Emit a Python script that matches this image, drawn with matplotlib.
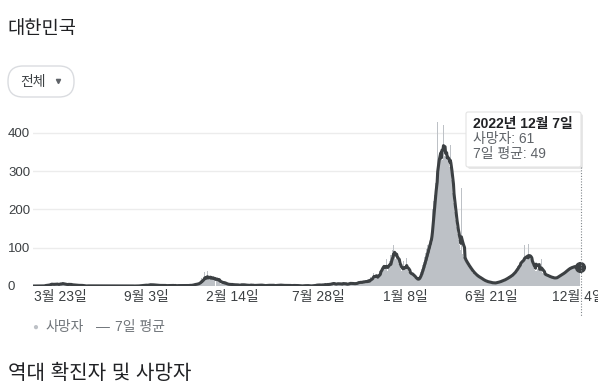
import matplotlib.pyplot as plt
from matplotlib.patches import FancyBboxPatch
from matplotlib.transforms import Bbox, TransformedBbox
import numpy as np
import pandas as pd

plt.rcParams['font.family'] = ['Liberation Sans', 'Noto Sans CJK KR', 'DejaVu Sans']

# daily deaths, South Korea, from 2020-02-01
deaths_2020 = [
    0, 0, 0, 0, 0, 0, 0, 0, 0, 0, 0, 0, 0, 0, 0, 0, 0, 0, 0, 1, 1, 0, 3, 1, 3, 1, 2, 1, 1,
    3, 4, 6, 4, 7, 3, 6, 2, 4, 3, 6, 6, 5, 5, 3, 6, 3, 7, 4, 3, 2, 7, 9, 6, 5, 5, 8, 5, 6, 6, 4,
    3, 4, 5, 3, 3, 3, 4, 8, 4, 4, 3, 3, 3, 3, 3, 3, 2, 2, 2, 2, 2, 1, 2, 2, 2, 2, 1, 2, 1, 0,
    2, 2, 2, 2, 0, 1, 0, 0, 0, 0, 0, 0, 2, 0, 1, 0, 0, 0, 1, 0, 0, 1, 0, 0, 3, 0, 0, 0, 1, 0, 0,
    1, 0, 1, 0, 0, 1, 1, 0, 0, 0, 0, 0, 1, 0, 1, 1, 0, 1, 1, 0, 0, 1, 1, 0, 0, 1, 0, 0, 0, 0,
    1, 0, 1, 1, 1, 1, 0, 0, 1, 0, 0, 0, 1, 0, 0, 1, 0, 0, 0, 1, 0, 0, 1, 1, 0, 0, 0, 0, 1, 1, 1,
    0, 0, 1, 0, 0, 0, 0, 0, 0, 0, 0, 0, 0, 0, 0, 0, 0, 0, 1, 1, 1, 0, 1, 2, 0, 1, 2, 3, 2, 3, 1,
    3, 2, 1, 2, 2, 3, 3, 4, 3, 5, 3, 2, 3, 3, 4, 3, 3, 2, 2, 3, 2, 2, 1, 1, 2, 3, 1, 2, 1, 1,
    2, 1, 2, 2, 2, 0, 1, 1, 1, 3, 0, 1, 1, 0, 2, 1, 1, 1, 2, 1, 0, 3, 2, 2, 0, 0, 1, 2, 1, 1, 1,
    1, 1, 2, 1, 1, 1, 1, 1, 0, 1, 1, 3, 2, 2, 0, 1, 0, 0, 3, 1, 1, 2, 1, 1, 3, 2, 2, 1, 3, 4,
    2, 4, 5, 6, 3, 4, 5, 5, 6, 6, 8, 7, 10, 10, 12, 12, 22, 11, 14, 24, 15, 24, 37, 17, 17, 20, 15, 40, 20, 19, 19,
]
deaths_2021 = [
    25, 20, 19, 20, 26, 20, 19, 15, 24, 14, 21, 12, 15, 22, 20, 19, 11, 10, 12, 20, 7, 5, 13, 6, 11, 7, 13, 7, 6, 5, 7,
    6, 7, 5, 3, 3, 4, 3, 5, 4, 4, 6, 2, 4, 3, 2, 3, 3, 2, 5, 4, 2, 3, 2, 1, 3, 2, 1, 4,
    2, 6, 4, 3, 1, 3, 2, 3, 3, 5, 1, 1, 1, 1, 3, 2, 2, 1, 2, 4, 3, 1, 2, 2, 1, 1, 0, 3, 2, 3, 1,
    2, 2, 2, 2, 2, 3, 2, 2, 3, 3, 1, 1, 2, 0, 2, 1, 0, 2, 1, 3, 2, 2, 2, 3, 0, 1, 1, 6, 1, 1,
    3, 1, 0, 1, 1, 2, 2, 2, 1, 2, 2, 4, 1, 2, 4, 2, 1, 1, 2, 1, 1, 1, 2, 3, 1, 1, 2, 1, 2, 3, 1,
    1, 1, 2, 1, 1, 0, 2, 2, 2, 2, 1, 1, 2, 1, 1, 1, 1, 1, 1, 1, 0, 1, 0, 0, 1, 0, 0, 2, 1, 0,
    2, 1, 1, 0, 1, 1, 2, 1, 0, 0, 0, 0, 0, 1, 2, 1, 1, 0, 1, 2, 4, 1, 2, 5, 1, 1, 4, 2, 4, 3, 1,
    2, 1, 6, 2, 5, 1, 4, 5, 3, 2, 5, 3, 4, 6, 4, 3, 5, 5, 4, 7, 7, 9, 8, 4, 1, 9, 6, 3, 5, 6, 7,
    6, 8, 5, 4, 5, 4, 8, 5, 6, 4, 3, 12, 7, 6, 5, 4, 5, 3, 6, 4, 6, 7, 8, 6, 7, 10, 4, 5, 6, 8,
    6, 6, 7, 5, 5, 7, 8, 9, 7, 11, 12, 6, 9, 10, 12, 8, 9, 11, 10, 12, 14, 9, 11, 13, 12, 9, 14, 12, 15, 18, 9,
    10, 15, 24, 22, 22, 21, 19, 20, 34, 37, 19, 21, 26, 29, 21, 24, 21, 32, 29, 39, 35, 38, 63, 40, 45, 52, 56, 47, 56, 44,
    48, 52, 43, 70, 43, 39, 57, 64, 64, 53, 80, 40, 80, 94, 94, 84, 107, 79, 78, 56, 71, 109, 79, 63, 69, 58, 48, 60, 57, 44, 48,
]
deaths_2022 = [
    39, 40, 43, 45, 64, 55, 44, 41, 50, 47, 73, 39, 42, 36, 31, 33, 34, 31, 29, 34, 32, 30, 24, 25, 24, 20, 23, 19, 18, 15, 15,
    17, 22, 19, 27, 25, 36, 31, 45, 40, 56, 49, 63, 60, 75, 66, 85, 78, 96, 88, 106, 98, 118, 108, 128, 119, 138, 133, 158,
    200, 215, 222, 240, 238, 262, 268, 290, 295, 310, 428, 316, 330, 335, 342, 338, 346, 335, 455, 330, 342, 420, 328, 340, 330, 336, 344, 338, 328, 342, 322,
    325, 312, 300, 368, 282, 276, 250, 244, 224, 218, 196, 194, 176, 172, 154, 154, 136, 136, 120, 120, 106, 108, 94, 96, 255, 80, 84, 72, 76, 66,
    70, 62, 68, 56, 61, 52, 57, 48, 53, 46, 47, 42, 43, 38, 39, 35, 37, 33, 32, 29, 31, 27, 28, 25, 26, 23, 24, 21, 23, 20, 21,
    19, 18, 17, 16, 15, 15, 14, 13, 13, 12, 12, 11, 11, 10, 10, 11, 9, 10, 9, 8, 9, 8, 7, 8, 9, 7, 8, 9, 8, 10,
    9, 11, 10, 9, 12, 11, 13, 12, 14, 13, 15, 14, 16, 17, 15, 18, 17, 20, 19, 21, 22, 21, 24, 25, 23, 27, 28, 26, 30, 31, 29,
    33, 35, 38, 36, 40, 42, 44, 47, 46, 51, 53, 55, 58, 57, 60, 81, 62, 64, 66, 65, 68, 70, 107, 72, 71, 74, 73, 75, 74, 76, 110,
    74, 72, 70, 66, 62, 58, 55, 52, 48, 45, 43, 42, 40, 130, 40, 42, 44, 45, 46, 45, 44, 42, 40, 70, 36, 34, 32, 31, 30, 29,
    30, 28, 27, 29, 26, 25, 27, 24, 23, 25, 22, 24, 21, 23, 20, 22, 21, 19, 22, 20, 23, 21, 24, 22, 25, 27, 26, 28, 27, 30, 29,
    31, 33, 32, 35, 34, 37, 36, 40, 38, 42, 41, 44, 43, 46, 45, 48, 47, 49, 46, 50, 48, 52, 49, 51, 50, 53, 48, 52, 47, 50,
    46, 50, 44, 48, 42, 52, 61,
]

tick_dates = ['2020-03-23', '2020-09-03', '2021-02-14', '2021-07-28',
              '2022-01-08', '2022-06-21', '2022-12-04']
tick_labels = ['3월 23일', '9월 3일', '2월 14일', '7월 28일', '1월 8일', '6월 21일', '12월 4일']
y_ticks = [0, 100, 200, 300, 400]

deaths = np.array(deaths_2020 + deaths_2021 + deaths_2022)
dates = pd.date_range('2020-02-01', periods=len(deaths), freq='D')
avg7 = pd.Series(deaths).rolling(7, min_periods=1).mean()

fig = plt.figure(figsize=(6.15, 3.89), dpi=100)
ax = fig.add_axes([33 / 615, 103 / 389, 547.5 / 615, 180 / 389])

ax.bar(dates, deaths, width=1.0, color='#bdc1c6', linewidth=0, antialiased=False, zorder=2)
ax.plot(dates, avg7, color='#3c4043', lw=2.2, zorder=3, solid_joinstyle='round')
ax.plot(dates[-1], avg7.iloc[-1], 'o', ms=7, color='#3c4043', zorder=4, clip_on=False)

ax.set_xlim(dates[0] - pd.Timedelta(hours=12), dates[-1] + pd.Timedelta(hours=12))
ax.set_ylim(0, 470)
for s in ax.spines.values():
    s.set_visible(False)
ax.set_yticks(y_ticks)
ax.set_yticklabels([str(v) for v in y_ticks], ha='left')
ax.tick_params(axis='y', length=0, pad=18, labelsize=9.5, labelcolor='#3c4043')
ax.set_xticks(pd.to_datetime(tick_dates))
ax.set_xticklabels(tick_labels)
ax.tick_params(axis='x', length=0, pad=3, labelsize=10, labelcolor='#3c4043')
ax.yaxis.grid(True, color='#ececec', lw=1)
ax.set_axisbelow(True)

# last label is cut off at the card edge
clip = TransformedBbox(Bbox.from_extents(0, 0, 598 / 615, 1), fig.transFigure)
last = ax.get_xticklabels()[-1]
last.set_clip_on(True)
last.set_clip_box(clip)

# overlay in pixel coordinates for the page elements
ov = fig.add_axes([0, 0, 1, 1], zorder=5)
ov.set_xlim(0, 615)
ov.set_ylim(389, 0)
ov.axis('off')

ov.text(7, 29, '대한민국', fontsize=13.5, color='#202124', va='center')
ov.add_patch(FancyBboxPatch((8, 66), 66, 31, boxstyle='round,pad=0,rounding_size=15',
                            fc='white', ec='#dadce0', lw=1))
ov.text(20, 82, '전체', fontsize=10, color='#3c4043', va='center')
ov.plot(58, 81, marker='v', ms=3, color='#5f6368')

ov.plot([580.5, 580.5], [167, 316], color='#80868b', lw=0.8, ls=(0, (1, 1.5)))
ov.add_patch(FancyBboxPatch((468, 114), 115, 55, boxstyle='round,pad=0,rounding_size=2',
                            fc='#d8d8d8', ec='none', alpha=0.6))
ov.add_patch(FancyBboxPatch((466, 112), 115, 55, boxstyle='round,pad=0,rounding_size=2',
                            fc='white', ec='#e3e3e3', lw=0.8))
ov.text(473, 124, '2022년 12월 7일', fontsize=10, fontweight='bold', color='#202124', va='center')
ov.text(473, 139, f'사망자: {deaths[-1]}', fontsize=10, color='#5f6368', va='center')
ov.text(473, 154, f'7일 평균: {avg7.iloc[-1]:.0f}', fontsize=10, color='#5f6368', va='center')

ov.text(32, 327, '●', fontsize=7, color='#bdc1c6', va='center')
ov.text(45, 327, '사망자', fontsize=10, color='#70757a', va='center')
ov.text(96, 327, '—', fontsize=10, color='#70757a', va='center')
ov.text(115, 327, '7일 평균', fontsize=10, color='#70757a', va='center')

ov.text(8, 373, '역대 확진자 및 사망자', fontsize=14.5, color='#202124', va='center')

fig.savefig('out.png', dpi=100)
